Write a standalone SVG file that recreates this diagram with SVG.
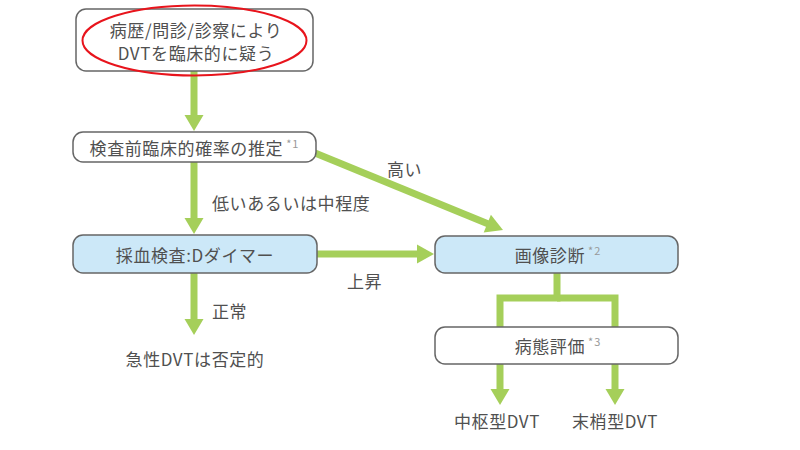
<svg xmlns="http://www.w3.org/2000/svg" width="800" height="450" viewBox="0 0 800 450">
<style>
.box{stroke:#666;stroke-width:1.5;fill:#fff}
.blue{fill:#cce8f8}
.t{font-family:"Noto Sans CJK JP","Noto Sans",sans-serif;font-size:17px;letter-spacing:0.6px;fill:#505050;text-anchor:middle;dominant-baseline:central}
.lbl{font-family:"Noto Sans CJK JP","Noto Sans",sans-serif;font-size:17px;letter-spacing:0.6px;fill:#505050;dominant-baseline:central}
.sup{font-size:11px;fill:#999;letter-spacing:1px}
.ln{stroke:#a5cf5a;stroke-width:7;fill:none}
.ah{fill:#a5cf5a}
</style>
<rect width="800" height="450" fill="#fff"/>
<g id="connectors">
<line class="ln" x1="194" y1="71" x2="194" y2="116"/>
<polygon class="ah" points="184.5,115 203.5,115 194,131"/>
<line class="ln" x1="194" y1="162" x2="194" y2="219"/>
<polygon class="ah" points="184.5,218 203.5,218 194,234"/>
<line class="ln" x1="194" y1="273" x2="194" y2="320"/>
<polygon class="ah" points="184.5,319 203.5,319 194,335"/>
<line class="ln" x1="317" y1="254" x2="418" y2="254"/>
<polygon class="ah" points="417,244.5 417,263.5 434,254"/>
<line class="ln" x1="315" y1="153" x2="489" y2="224.3"/>
<polygon class="ah" points="483.7,232.4 490.9,214.8 503,230"/>
<polyline class="ln" points="557,273 557,298 500,298 500,327"/>
<polyline class="ln" points="557,298 615,298 615,327"/>
<line class="ln" x1="500" y1="364" x2="500" y2="390"/>
<polygon class="ah" points="490.5,389 509.5,389 500,405"/>
<line class="ln" x1="615" y1="364" x2="615" y2="390"/>
<polygon class="ah" points="605.5,389 624.5,389 615,405"/>
</g>
<g id="n1">
<rect class="box" x="76" y="9" width="237" height="62" rx="10"/>
<text class="t" x="196" y="29">病歴/問診/診察により</text>
<text class="t" x="196" y="52">DVTを臨床的に疑う</text>
<ellipse cx="194.5" cy="40.5" rx="112" ry="35" fill="none" stroke="#e8141c" stroke-width="2"/>
</g>
<g id="n2">
<rect class="box" x="73" y="132" width="243" height="30" rx="10"/>
<text class="t" x="194.5" y="147">検査前臨床的確率の推定<tspan class="sup" dx="3" dy="-4">*1</tspan></text>
</g>
<g id="n3">
<rect class="box blue" x="73" y="235" width="244" height="38" rx="10"/>
<text class="t" x="195" y="254">採血検査:Dダイマー</text>
</g>
<g id="n4">
<rect class="box blue" x="435" y="236" width="243" height="37" rx="10"/>
<text class="t" x="558" y="254">画像診断<tspan class="sup" dx="3" dy="-4">*2</tspan></text>
</g>
<g id="n5">
<rect class="box" x="435" y="327" width="243" height="37" rx="10"/>
<text class="t" x="558" y="345">病態評価<tspan class="sup" dx="3" dy="-4">*3</tspan></text>
</g>
<g id="n6"><text class="t" x="195" y="358">急性DVTは否定的</text></g>
<g id="n7"><text class="t" x="497" y="420">中枢型DVT</text></g>
<g id="n8"><text class="t" x="615" y="420">末梢型DVT</text></g>
<g id="labels">
<text class="lbl" x="212" y="202">低いあるいは中程度</text>
<text class="lbl" x="212" y="310">正常</text>
<text class="lbl" x="347" y="280">上昇</text>
<text class="lbl" x="387" y="168">高い</text>
</g>
</svg>
